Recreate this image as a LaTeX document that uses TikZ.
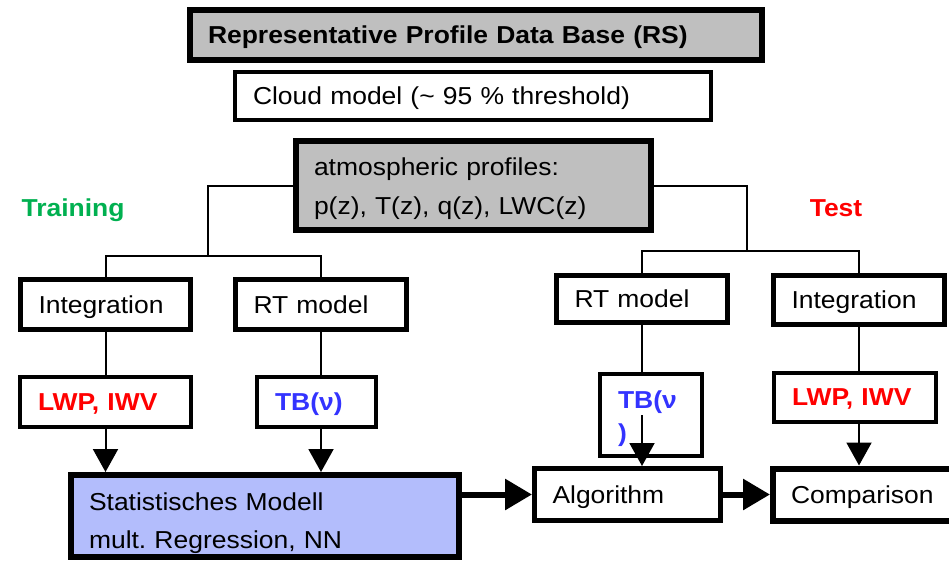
\documentclass[tikz,border=0pt]{standalone}
\usepackage{fontspec}
\setmainfont{Liberation Sans}[FakeStretch=1.08]
\usepackage{tikz}
\usetikzlibrary{arrows.meta}
\definecolor{boxgray}{gray}{0.75}
\definecolor{statblue}{RGB}{179,189,252}
\definecolor{trgreen}{RGB}{0,176,80}
\definecolor{tbblue}{RGB}{51,51,255}
\definecolor{lwpred}{RGB}{255,0,0}
\frenchspacing

\tikzset{
    box/.style={draw, line width=4.5pt, align=left, inner xsep=18pt, inner ysep=0pt, text depth=0pt},
    heavy/.style={box, line width=6pt},
    link/.style={line width=2pt},
    arr/.style={line width=2pt, -{Triangle[length=23pt,width=25pt]}},
    fatarr/.style={line width=6pt, -{Triangle[length=27pt,width=30pt]}}
}

\begin{document}
\begin{tikzpicture}[x=1pt, y=-1pt, font=\fontsize{24.5}{39}\selectfont]
    \useasboundingbox (0,0) rectangle (949,564);
    \clip (0,0) rectangle (949,564);

    % data base and profiles
    \node [heavy, fill=boxgray, text width=536pt, minimum height=50pt] (rs) at (476,35)
        {\bfseries Representative Profile Data Base (RS)};
    \node [box, line width=4pt, text width=440pt, minimum height=48pt] (cloud) at (473,96)
        {Cloud model (\textasciitilde{} 95 \% threshold)};
    \node [heavy, fill=boxgray, text width=319pt, minimum height=89pt, text depth=38pt] (atm) at (473.5,185.5)
        {atmospheric profiles:\\p(z), T(z), q(z), LWC(z)};

    \node [text=trgreen, text depth=0pt, font=\fontsize{24.5}{30}\selectfont\bfseries] (train) at (73,208) {Training};
    \node [text=lwpred, text depth=0pt, font=\fontsize{24.5}{30}\selectfont\bfseries] (test) at (836,208) {Test};

    % training branch
    \node [box, line width=5pt, text width=134pt, minimum height=50pt] (intL) at (105.5,304.5) {Integration};
    \node [box, line width=5pt, text width=135pt, minimum height=50pt] (rtL) at (321,304.5) {RT model};
    \node [box, text width=135pt, minimum height=50pt, text=lwpred, font=\fontsize{24.5}{39}\selectfont\bfseries] (lwpL) at (105.5,402) {LWP, IWV};
    \node [box, text width=83pt, minimum height=50pt, text=tbblue, font=\fontsize{24.5}{39}\selectfont\bfseries] (tbL) at (316.5,402) {TB(ν)};
    \node [heavy, fill=statblue, text width=352pt, minimum height=82pt, text depth=29pt, font=\fontsize{24.5}{38}\selectfont] (stat) at (265,516)
        {Statistisches Modell\\mult. Regression, NN};

    % test branch
    \node [box, line width=5pt, text width=135pt, minimum height=47pt] (rtR) at (642,299) {RT model};
    \node [box, line width=5pt, text width=135pt, minimum height=49pt] (intR) at (859,300) {Integration};
    \node [box, text width=66pt, minimum height=82pt, text depth=30pt, text=tbblue, font=\fontsize{24.5}{33}\selectfont\bfseries] (tbR) at (651,415) {TB(ν\\)};
    \node [box, text width=126pt, minimum height=49pt, text=lwpred, font=\fontsize{24.5}{39}\selectfont\bfseries] (lwpR) at (855,397.5) {LWP, IWV};
    \node [box, line width=5pt, text width=150pt, minimum height=52pt] (algo) at (627.5,494.5) {Algorithm};
    \node [heavy, text width=154pt, minimum height=52pt] (comp) at (868,494.5) {Comparison};

    % tree lines
    \coordinate (jl) at (208,256);
    \coordinate (jr) at (747,251);
    \draw [link] (atm.west) -| (jl);
    \draw [link] (intL.north) |- (jl) -| (rtL.north);
    \draw [link] (atm.east) -| (jr);
    \draw [link] (rtR.north) |- (jr) -| (intR.north);

    \draw [link] (intL.south) -- (lwpL.north);
    \draw [link] (rtL.south) -- (rtL.south |- tbL.north);
    \draw [link] (rtR.south) -- (rtR.south |- tbR.north);
    \draw [link] (intR.south) -- (intR.south |- lwpR.north);

    % arrows
    \draw [arr] (lwpL.south) -- (lwpL.south |- stat.north);
    \draw [arr] (rtL.south |- tbL.south) -- (rtL.south |- stat.north);
    \draw [arr] (rtR.south |- tbR.center) -- (rtR.south |- algo.north);
    \draw [arr] (intR.south |- lwpR.south) -- (intR.south |- comp.north);
    \draw [fatarr] (stat.east |- algo.west) -- (algo.west);
    \draw [fatarr] (algo.east) -- (comp.west);
\end{tikzpicture}
\end{document}
